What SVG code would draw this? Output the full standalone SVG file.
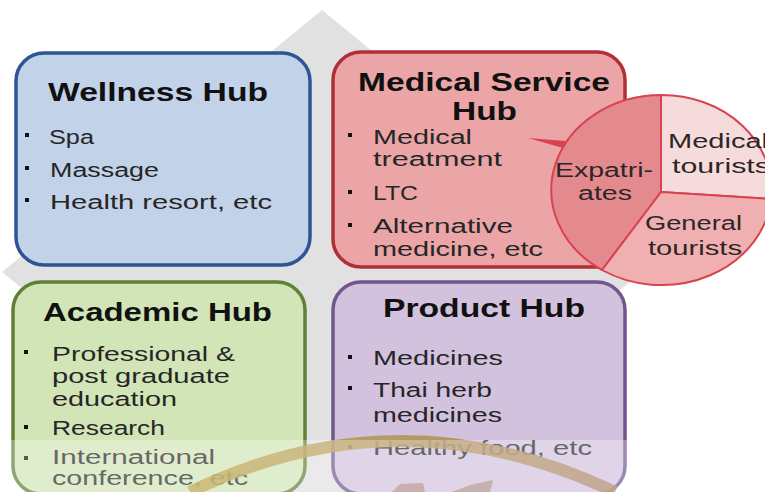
<svg xmlns="http://www.w3.org/2000/svg" width="765" height="492" viewBox="0 0 765 492">
<defs>
<style>
.t{font-family:"Liberation Sans","DejaVu Sans",sans-serif;font-weight:bold;font-size:26px;fill:#111;}
.b{font-family:"Liberation Sans","DejaVu Sans",sans-serif;font-size:20px;fill:#262626;}
.p{font-family:"Liberation Sans","DejaVu Sans",sans-serif;font-size:20px;fill:#2e2626;}
.box{stroke-width:3.5;}
.bul{fill:#111;}
.sl{stroke:#d9434f;stroke-width:2;stroke-linejoin:round;}
</style>
<linearGradient id="arcg" x1="190" y1="0" x2="615" y2="0" gradientUnits="userSpaceOnUse">
<stop offset="0" stop-color="#b39a35"/>
<stop offset="0.45" stop-color="#b3944f"/>
<stop offset="1" stop-color="#a57c5c"/>
</linearGradient>
</defs>
<rect width="765" height="492" fill="#ffffff"/>
<polygon points="322,10 642,272 322,534 2,272" fill="#e1e1e1"/>

<g id="wellness">
<rect class="box" x="16" y="53" width="294" height="212" rx="28" fill="#c2d2e9" stroke="#2d5596"/>
<text class="t" x="48" y="101" textLength="220" lengthAdjust="spacingAndGlyphs">Wellness Hub</text>
<rect class="bul" x="25" y="133" width="4" height="4"/>
<text class="b" x="49" y="144" textLength="45" lengthAdjust="spacingAndGlyphs">Spa</text>
<rect class="bul" x="25" y="166" width="4" height="4"/>
<text class="b" x="50" y="177" textLength="109" lengthAdjust="spacingAndGlyphs">Massage</text>
<rect class="bul" x="25" y="198" width="4" height="4"/>
<text class="b" x="50" y="209" textLength="222" lengthAdjust="spacingAndGlyphs">Health resort, etc</text>
</g>

<g id="medical">
<rect class="box" x="333" y="52" width="292" height="215" rx="28" fill="#eba5a6" stroke="#b03038"/>
<text class="t" x="358" y="91" textLength="252" lengthAdjust="spacingAndGlyphs">Medical Service</text>
<text class="t" x="452" y="120" textLength="65" lengthAdjust="spacingAndGlyphs">Hub</text>
<rect class="bul" x="348" y="133" width="4" height="4"/>
<text class="b" x="373" y="144" textLength="99" lengthAdjust="spacingAndGlyphs">Medical</text>
<text class="b" x="373" y="166" textLength="129" lengthAdjust="spacingAndGlyphs">treatment</text>
<rect class="bul" x="348" y="190" width="4" height="4"/>
<text class="b" x="373" y="200" textLength="45" lengthAdjust="spacingAndGlyphs">LTC</text>
<rect class="bul" x="348" y="223" width="4" height="4"/>
<text class="b" x="373" y="233" textLength="140" lengthAdjust="spacingAndGlyphs">Alternative</text>
<text class="b" x="373" y="256" textLength="170" lengthAdjust="spacingAndGlyphs">medicine, etc</text>
</g>

<g id="connectors">
<polygon points="528,138 566,141 563,148" fill="#d9434f"/>
</g>

<g id="pie">
<path class="sl" d="M661,192 L661,95 A110,95 0 0 0 602,270 Z" fill="#e48a8e"/>
<path class="sl" d="M661,192 L661,95 A110,95 0 0 1 771,199 Z" fill="#f6dbdc"/>
<path class="sl" d="M661,192 L771,199 A110,95 0 0 1 602,270 Z" fill="#f0b0b2"/>
<text class="p" x="555" y="177" textLength="98" lengthAdjust="spacingAndGlyphs">Expatri-</text>
<text class="p" x="578" y="200" textLength="54" lengthAdjust="spacingAndGlyphs">ates</text>
<text class="p" x="668" y="148" textLength="100" lengthAdjust="spacingAndGlyphs">Medical</text>
<text class="p" x="672" y="173" textLength="98" lengthAdjust="spacingAndGlyphs">tourists</text>
<text class="p" x="645" y="230" textLength="97" lengthAdjust="spacingAndGlyphs">General</text>
<text class="p" x="648" y="255" textLength="94" lengthAdjust="spacingAndGlyphs">tourists</text>
</g>

<g id="academic">
<rect class="box" x="13" y="282" width="292" height="212" rx="28" fill="#d2e5b6" stroke="#5f8036"/>
<text class="t" x="43" y="321" textLength="229" lengthAdjust="spacingAndGlyphs">Academic Hub</text>
<rect class="bul" x="24" y="350" width="4" height="4"/>
<text class="b" x="52" y="361" textLength="183" lengthAdjust="spacingAndGlyphs">Professional &amp;</text>
<text class="b" x="52" y="383" textLength="178" lengthAdjust="spacingAndGlyphs">post graduate</text>
<text class="b" x="52" y="406" textLength="125" lengthAdjust="spacingAndGlyphs">education</text>
<rect class="bul" x="24" y="425" width="4" height="4"/>
<text class="b" x="52" y="435" textLength="113" lengthAdjust="spacingAndGlyphs">Research</text>
<rect class="bul" x="24" y="456" width="4" height="4"/>
<text class="b" x="52" y="464" textLength="163" lengthAdjust="spacingAndGlyphs">International</text>
<text class="b" x="52" y="485" textLength="196" lengthAdjust="spacingAndGlyphs">conference, etc</text>
</g>

<g id="product">
<rect class="box" x="333" y="282" width="292" height="212" rx="28" fill="#d2c2de" stroke="#715690"/>
<text class="t" x="383" y="317" textLength="202" lengthAdjust="spacingAndGlyphs">Product Hub</text>
<rect class="bul" x="348" y="355" width="4" height="4"/>
<text class="b" x="373" y="365" textLength="130" lengthAdjust="spacingAndGlyphs">Medicines</text>
<rect class="bul" x="348" y="386" width="4" height="4"/>
<text class="b" x="373" y="397" textLength="119" lengthAdjust="spacingAndGlyphs">Thai herb</text>
<text class="b" x="373" y="422" textLength="129" lengthAdjust="spacingAndGlyphs">medicines</text>
<rect class="bul" x="348" y="445" width="4" height="4"/>
<text class="b" x="373" y="455" textLength="219" lengthAdjust="spacingAndGlyphs">Healthy food, etc</text>
</g>

<path d="M190,492 Q400,390 615,492" fill="none" stroke="url(#arcg)" stroke-width="12" opacity="0.85"/>
<polygon points="392,492 400,484 423,483 425,492" fill="#9a6a55" opacity="0.6"/>
<polygon points="452,492 470,485 493,480 490,492" fill="#9a6a55" opacity="0.6"/>
<rect x="0" y="440" width="765" height="52" fill="#ffffff" opacity="0.3"/>
</svg>
